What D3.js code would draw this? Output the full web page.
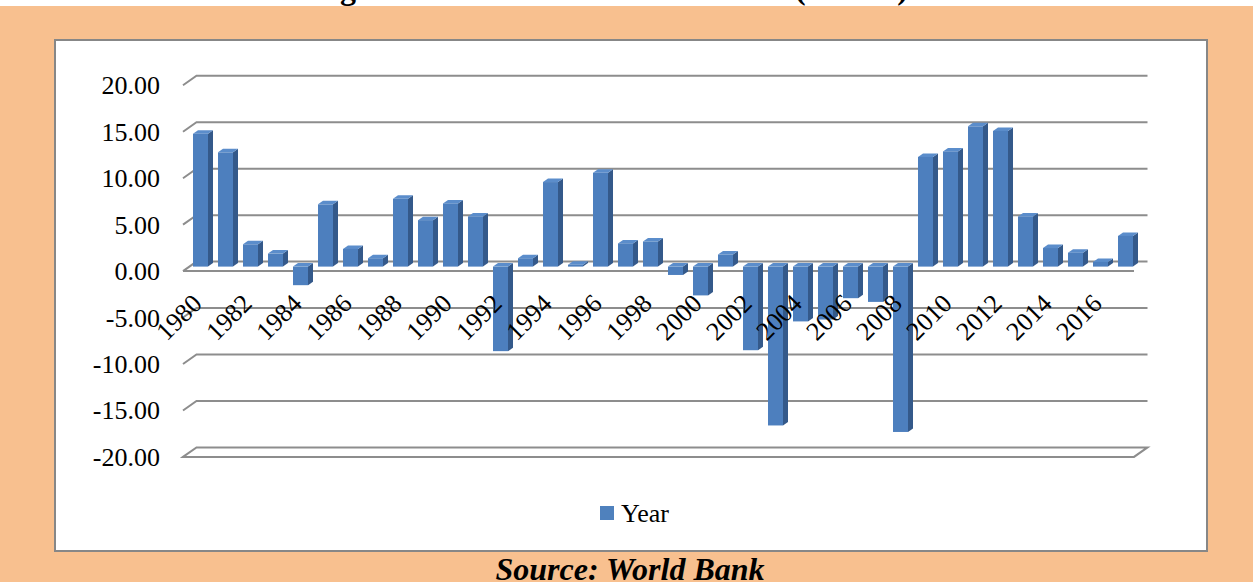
<!DOCTYPE html>
<html>
<head>
<meta charset="utf-8">
<script src="https://cdn.jsdelivr.net/npm/d3@7"></script>
<style>
html,body{margin:0;padding:0;background:#F8C08F;}
svg{display:block;}
</style>
</head>
<body>
<svg id="chart" width="1253" height="582"></svg>
<script>
// ---- data ----
const years = [1980,1981,1982,1983,1984,1985,1986,1987,1988,1989,
               1990,1991,1992,1993,1994,1995,1996,1997,1998,1999,
               2000,2001,2002,2003,2004,2005,2006,2007,2008,2009,
               2010,2011,2012,2013,2014,2015,2016,2017];
const values = [14.3,12.3,2.4,1.4,-2.0,6.7,1.9,0.9,7.3,5.0,
                6.8,5.4,-9.1,0.9,9.1,0.2,10.1,2.5,2.7,-0.9,
                -3.1,1.3,-9.0,-17.1,-5.9,-5.7,-3.4,-3.8,-17.8,11.8,
                12.4,15.1,14.6,5.4,2.0,1.5,0.5,3.3];
const yTicks = [20,15,10,5,0,-5,-10,-15,-20];
const xLabelYears = [1980,1982,1984,1986,1988,1990,1992,1994,1996,1998,
                     2000,2002,2004,2006,2008,2010,2012,2014,2016];
const seriesName = "Year";
const sourceText = "Source: World Bank";
const titleText = "Figure 2: Trend of Annual Real GDP Growth Rate (1980-2017)";

// ---- layout ----
const svg = d3.select("#chart");
const font = "'Liberation Serif','Times New Roman',serif";
const grid = "#8d8d8d";

// white strip at the very top holding the cut-off title
svg.append("rect").attr("x", 0).attr("y", 0).attr("width", 1253).attr("height", 6)
  .attr("fill", "#fff");

// partially visible title (cut off at top)
const title = svg.append("text")
  .attr("x", 0).attr("y", -1)
  .attr("font-family", font).attr("font-weight", "bold")
  .attr("font-size", 100).attr("fill", "#000")
  .text(titleText);
{
  const n = title.node();
  const iG = 2, iP = titleText.indexOf("("), iQ = titleText.indexOf(")");
  const aG = n.getStartPositionOfChar(iG).x;
  const aP = n.getStartPositionOfChar(iP).x;
  const aQ = n.getStartPositionOfChar(iQ).x;
  const tG = 340, tP = 795, tQ = 940;
  // solve k*(aP-aG) + ls*(iP-iG) = tP-tG ; k*(aQ-aP) + ls*(iQ-iP) = tQ-tP
  const A = aP - aG, B = iP - iG, C = aQ - aP, D = iQ - iP;
  const E = tP - tG, F = tQ - tP;
  const det = A * D - B * C;
  let k = (E * D - B * F) / det;
  let ls = (A * F - C * E) / det;
  const fs = Math.max(20, Math.min(32, 100 * k));
  k = fs / 100;
  ls = (E - k * A) / B;
  title.attr("font-size", fs).attr("letter-spacing", ls)
    .attr("x", tG - (k * aG + ls * iG));
}

// white chart area
svg.append("rect")
  .attr("x", 55).attr("y", 40).attr("width", 1152).attr("height", 511)
  .attr("fill", "#fff").attr("stroke", "#878787").attr("stroke-width", 2);

const y = d3.scaleLinear().domain([-20, 20]).range([447.4, 75.8]);
const backL = 196.5, backR = 1147.5;   // back wall extent
const ddx = 13.5, ddy = 9.5;           // depth offset (back -> front)

const x = d3.scaleBand().domain(years).range([183, 1143])
  .paddingInner(0.4).paddingOuter(0.4);

// gridlines (side wall diagonal + back wall horizontal)
const gG = svg.append("g").attr("stroke", grid).attr("stroke-width", 2)
  .attr("fill", "none");
yTicks.forEach(v => {
  const yb = y(v);
  if (v === -20) {
    gG.append("path")
      .attr("fill", "#fff")
      .attr("d", `M${backL - ddx},${yb + ddy}L${backL},${yb}L${backR},${yb}L${backR - ddx},${yb + ddy}Z`);
  } else {
    gG.append("path")
      .attr("d", `M${backL - ddx},${yb + ddy}L${backL},${yb}L${backR},${yb}`);
  }
});
// front edge of the floor at zero
gG.append("line")
  .attr("x1", backL - ddx).attr("x2", backR - ddx)
  .attr("y1", y(0) + ddy).attr("y2", y(0) + ddy);

// y axis labels
svg.append("g").selectAll("text").data(yTicks).join("text")
  .attr("x", 160).attr("y", d => y(d) + 18.5)
  .attr("text-anchor", "end")
  .attr("font-family", font).attr("font-size", 26).attr("fill", "#000")
  .text(d => d.toFixed(2));

// bars (3D columns)
const bw = x.bandwidth(), sd = 5, sh = 3.5, off = 5;
const data = years.map((yr, i) => ({yr, v: values[i]}));
const bG = svg.append("g");
data.forEach(d => {
  const x0 = x(d.yr);
  const base = y(0) + off;
  const end = y(d.v) + off;
  const yt = Math.min(base, end), yb2 = Math.max(base, end);
  const g = bG.append("g");
  // side face
  g.append("path").attr("fill", "#34598A")
    .attr("d", `M${x0 + bw},${yt}L${x0 + bw + sd},${yt - sh}L${x0 + bw + sd},${yb2 - sh}L${x0 + bw},${yb2}Z`);
  // top face
  g.append("path").attr("fill", "#5B8DCB")
    .attr("d", `M${x0},${yt}L${x0 + bw},${yt}L${x0 + bw + sd},${yt - sh}L${x0 + sd},${yt - sh}Z`);
  // front face
  g.append("rect").attr("fill", "#4D7FBE")
    .attr("x", x0).attr("y", yt).attr("width", bw).attr("height", Math.max(0.8, yb2 - yt));
});

// x axis labels (rotated)
svg.append("g").selectAll("text").data(xLabelYears).join("text")
  .attr("transform", d => `translate(${x(d) + bw / 2 + 3},305) rotate(-45)`)
  .attr("text-anchor", "end")
  .attr("font-family", font).attr("font-size", 26).attr("fill", "#000")
  .text(d => d);

// legend
svg.append("rect").attr("x", 600).attr("y", 506).attr("width", 14).attr("height", 14)
  .attr("fill", "#4F81BD");
svg.append("text").attr("x", 621).attr("y", 521.5)
  .attr("font-family", font).attr("font-size", 26).attr("fill", "#000")
  .text(seriesName);

// source
svg.append("text").attr("x", 630).attr("y", 580).attr("text-anchor", "middle")
  .attr("font-family", font).attr("font-size", 32).attr("font-weight", "bold")
  .attr("font-style", "italic").attr("fill", "#000")
  .text(sourceText);
</script>
</body>
</html>
